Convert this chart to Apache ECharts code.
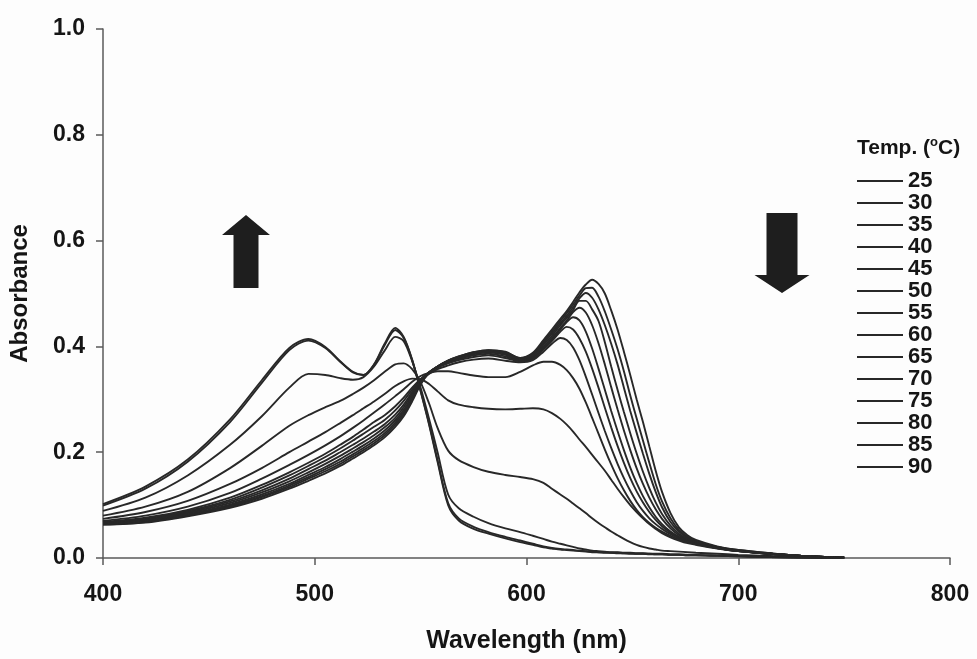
<!DOCTYPE html>
<html>
<head>
<meta charset="utf-8">
<script src="https://cdn.jsdelivr.net/npm/echarts@6/dist/echarts.min.js"></script>
<style>
  html, body { margin: 0; padding: 0; background: #fdfdfd; }
  #chart { width: 977px; height: 659px; }
</style>
</head>
<body>
<div id="chart"></div>
<script>
// Wavelength grid (nm) shared by every spectrum
const wavelengths = [400, 420, 440, 460, 475, 488, 497, 505, 512, 518, 523, 528, 533, 538,
  542, 546, 550, 554, 558, 563, 568, 575, 582, 590, 597, 603, 608, 612, 616,
  619, 622, 625, 628, 631, 634, 637, 640, 643, 646, 649, 652, 655, 658, 661,
  664, 668, 672, 676, 680, 690, 700, 715, 730, 750];

// Temperatures (°C), one spectrum each
const temperatures = ['25', '30', '35', '40', '45', '50', '55', '60', '65', '70', '75', '80', '85', '90'];

// Absorbance spectra
const abs25 = [0.063, 0.067, 0.079, 0.095, 0.112, 0.131, 0.146, 0.160, 0.174, 0.188, 0.200, 0.213, 0.228, 0.248,
  0.268, 0.296, 0.328, 0.350, 0.362, 0.373, 0.381, 0.389, 0.393, 0.390, 0.378, 0.388, 0.412, 0.432, 0.452,
  0.467, 0.484, 0.502, 0.517, 0.526, 0.518, 0.500, 0.468, 0.432, 0.390, 0.346, 0.300, 0.257, 0.211, 0.165,
  0.125, 0.085, 0.058, 0.043, 0.034, 0.022, 0.015, 0.009, 0.004, 0.001];
const abs30 = [0.063, 0.068, 0.080, 0.097, 0.115, 0.134, 0.150, 0.164, 0.178, 0.192, 0.204, 0.217, 0.232, 0.252,
  0.272, 0.299, 0.330, 0.350, 0.362, 0.373, 0.381, 0.389, 0.393, 0.389, 0.378, 0.386, 0.409, 0.428, 0.448,
  0.463, 0.479, 0.496, 0.510, 0.511, 0.494, 0.466, 0.432, 0.395, 0.353, 0.307, 0.264, 0.222, 0.180, 0.140,
  0.107, 0.075, 0.053, 0.040, 0.032, 0.021, 0.015, 0.009, 0.004, 0.001];
const abs35 = [0.064, 0.069, 0.081, 0.099, 0.117, 0.137, 0.153, 0.168, 0.182, 0.196, 0.208, 0.221, 0.236, 0.256,
  0.276, 0.302, 0.332, 0.351, 0.362, 0.373, 0.380, 0.388, 0.392, 0.388, 0.377, 0.384, 0.406, 0.424, 0.444,
  0.458, 0.474, 0.491, 0.501, 0.492, 0.470, 0.440, 0.405, 0.366, 0.322, 0.278, 0.237, 0.197, 0.159, 0.125,
  0.096, 0.068, 0.050, 0.038, 0.031, 0.021, 0.014, 0.008, 0.004, 0.001];
const abs40 = [0.064, 0.070, 0.083, 0.101, 0.120, 0.140, 0.157, 0.172, 0.187, 0.201, 0.213, 0.226, 0.241, 0.260,
  0.280, 0.306, 0.334, 0.351, 0.362, 0.372, 0.379, 0.387, 0.391, 0.386, 0.376, 0.382, 0.403, 0.420, 0.440,
  0.454, 0.469, 0.486, 0.486, 0.470, 0.448, 0.408, 0.362, 0.318, 0.276, 0.236, 0.198, 0.163, 0.132, 0.105,
  0.083, 0.061, 0.046, 0.036, 0.030, 0.020, 0.014, 0.008, 0.004, 0.001];
const abs45 = [0.065, 0.071, 0.085, 0.104, 0.124, 0.145, 0.162, 0.178, 0.193, 0.207, 0.219, 0.232, 0.247, 0.265,
  0.285, 0.310, 0.336, 0.351, 0.362, 0.371, 0.378, 0.385, 0.389, 0.384, 0.375, 0.380, 0.399, 0.416, 0.435,
  0.449, 0.465, 0.473, 0.464, 0.440, 0.406, 0.366, 0.323, 0.281, 0.241, 0.204, 0.170, 0.140, 0.114, 0.092,
  0.074, 0.056, 0.043, 0.035, 0.029, 0.020, 0.014, 0.008, 0.004, 0.001];
const abs50 = [0.066, 0.072, 0.087, 0.107, 0.128, 0.150, 0.168, 0.184, 0.200, 0.214, 0.226, 0.239, 0.253, 0.271,
  0.290, 0.314, 0.337, 0.351, 0.361, 0.370, 0.376, 0.383, 0.386, 0.381, 0.374, 0.378, 0.396, 0.413, 0.432,
  0.446, 0.455, 0.449, 0.428, 0.396, 0.358, 0.318, 0.278, 0.240, 0.204, 0.171, 0.142, 0.117, 0.096, 0.078,
  0.064, 0.050, 0.040, 0.033, 0.028, 0.019, 0.013, 0.008, 0.004, 0.001];
const abs55 = [0.067, 0.074, 0.089, 0.110, 0.133, 0.156, 0.174, 0.191, 0.207, 0.222, 0.235, 0.248, 0.261, 0.279,
  0.297, 0.318, 0.338, 0.350, 0.360, 0.368, 0.374, 0.380, 0.383, 0.378, 0.372, 0.376, 0.394, 0.410, 0.428,
  0.437, 0.432, 0.415, 0.390, 0.358, 0.322, 0.284, 0.247, 0.212, 0.180, 0.151, 0.126, 0.105, 0.087, 0.072,
  0.060, 0.048, 0.039, 0.032, 0.027, 0.019, 0.013, 0.008, 0.004, 0.001];
const abs60 = [0.068, 0.076, 0.091, 0.114, 0.138, 0.162, 0.180, 0.197, 0.214, 0.229, 0.243, 0.257, 0.270, 0.287,
  0.303, 0.322, 0.338, 0.348, 0.357, 0.364, 0.370, 0.375, 0.377, 0.373, 0.370, 0.374, 0.390, 0.405, 0.416,
  0.412, 0.398, 0.374, 0.343, 0.309, 0.274, 0.240, 0.208, 0.178, 0.151, 0.127, 0.106, 0.089, 0.075, 0.064,
  0.055, 0.045, 0.037, 0.031, 0.027, 0.019, 0.013, 0.008, 0.004, 0.001];
const abs65 = [0.070, 0.080, 0.097, 0.123, 0.150, 0.176, 0.195, 0.213, 0.230, 0.246, 0.260, 0.275, 0.290, 0.306,
  0.319, 0.333, 0.344, 0.350, 0.353, 0.353, 0.350, 0.345, 0.342, 0.342, 0.352, 0.364, 0.371, 0.371, 0.365,
  0.355, 0.340, 0.320, 0.294, 0.265, 0.235, 0.205, 0.177, 0.151, 0.128, 0.108, 0.091, 0.077, 0.066, 0.057,
  0.050, 0.042, 0.035, 0.030, 0.026, 0.019, 0.013, 0.008, 0.004, 0.001];
const abs70 = [0.074, 0.087, 0.108, 0.140, 0.170, 0.200, 0.220, 0.238, 0.255, 0.270, 0.283, 0.296, 0.310, 0.325,
  0.334, 0.339, 0.338, 0.329, 0.315, 0.298, 0.290, 0.285, 0.282, 0.281, 0.282, 0.283, 0.281, 0.274, 0.263,
  0.252, 0.239, 0.224, 0.210, 0.195, 0.180, 0.165, 0.148, 0.131, 0.115, 0.100, 0.087, 0.075, 0.064, 0.055,
  0.047, 0.039, 0.033, 0.028, 0.025, 0.018, 0.013, 0.008, 0.004, 0.001];
const abs75 = [0.080, 0.097, 0.125, 0.170, 0.212, 0.250, 0.270, 0.285, 0.297, 0.310, 0.322, 0.336, 0.352, 0.366,
  0.368, 0.357, 0.332, 0.292, 0.246, 0.203, 0.185, 0.172, 0.163, 0.157, 0.153, 0.149, 0.142, 0.131, 0.120,
  0.112, 0.103, 0.094, 0.085, 0.075, 0.066, 0.058, 0.050, 0.043, 0.036, 0.030, 0.025, 0.021, 0.018, 0.016,
  0.014, 0.013, 0.012, 0.011, 0.010, 0.008, 0.006, 0.004, 0.002, 0.000];
const abs80 = [0.089, 0.114, 0.156, 0.214, 0.268, 0.322, 0.348, 0.346, 0.340, 0.337, 0.342, 0.362, 0.392, 0.418,
  0.410, 0.372, 0.322, 0.263, 0.200, 0.120, 0.094, 0.078, 0.066, 0.056, 0.049, 0.042, 0.036, 0.031, 0.027,
  0.024, 0.021, 0.018, 0.016, 0.014, 0.013, 0.012, 0.011, 0.011, 0.010, 0.010, 0.009, 0.009, 0.008, 0.008,
  0.008, 0.007, 0.007, 0.006, 0.006, 0.005, 0.004, 0.002, 0.001, 0.000];
const abs85 = [0.099, 0.131, 0.182, 0.257, 0.331, 0.393, 0.411, 0.397, 0.371, 0.351, 0.346, 0.365, 0.402, 0.431,
  0.416, 0.374, 0.316, 0.254, 0.185, 0.104, 0.075, 0.059, 0.049, 0.040, 0.033, 0.027, 0.022, 0.019, 0.017,
  0.016, 0.015, 0.014, 0.013, 0.012, 0.011, 0.011, 0.010, 0.010, 0.009, 0.009, 0.008, 0.008, 0.008, 0.007,
  0.007, 0.006, 0.006, 0.005, 0.005, 0.004, 0.003, 0.002, 0.001, 0.000];
const abs90 = [0.102, 0.135, 0.186, 0.262, 0.336, 0.397, 0.414, 0.399, 0.372, 0.352, 0.346, 0.366, 0.405, 0.435,
  0.418, 0.375, 0.315, 0.252, 0.182, 0.100, 0.071, 0.055, 0.046, 0.037, 0.030, 0.025, 0.020, 0.018, 0.016,
  0.015, 0.014, 0.013, 0.012, 0.011, 0.011, 0.010, 0.010, 0.009, 0.009, 0.008, 0.008, 0.008, 0.007, 0.007,
  0.007, 0.006, 0.006, 0.005, 0.005, 0.004, 0.003, 0.002, 0.001, 0.000];

const spectra = [abs25, abs30, abs35, abs40, abs45, abs50, abs55, abs60, abs65, abs70, abs75, abs80, abs85, abs90];

const FONT = '"Liberation Sans", Arial, Helvetica, sans-serif';
const INK = '#151515';
const LINE = '#282828';
const AXIS = '#5a5a5a';

const chart = echarts.init(document.getElementById('chart'), null, { renderer: 'canvas' });

const series = temperatures.map((t, k) => ({
  name: t,
  type: 'line',
  data: wavelengths.map((w, i) => [w, spectra[k][i]]),
  showSymbol: false,
  smooth: 0.3,
  color: LINE,
  lineStyle: { color: LINE, width: 1.9 },
  emphasis: { disabled: true },
  animation: false,
  z: 2
}));

// Block arrows showing the direction of change with rising temperature
function arrowUp(cx, tipY, baseY, headY, shaftW, headW) {
  return [[cx, tipY], [cx + headW / 2, headY], [cx + shaftW / 2, headY], [cx + shaftW / 2, baseY],
    [cx - shaftW / 2, baseY], [cx - shaftW / 2, headY], [cx - headW / 2, headY]];
}
function arrowDown(cx, topY, tipY, headY, shaftW, headW) {
  return [[cx - shaftW / 2, topY], [cx + shaftW / 2, topY], [cx + shaftW / 2, headY], [cx + headW / 2, headY],
    [cx, tipY], [cx - headW / 2, headY], [cx - shaftW / 2, headY]];
}

chart.setOption({
  backgroundColor: '#fdfdfd',
  animation: false,
  grid: { left: 103, right: 27, top: 29, bottom: 100, containLabel: false },
  xAxis: {
    type: 'value',
    min: 400, max: 800, interval: 100,
    name: 'Wavelength (nm)',
    nameLocation: 'middle',
    nameGap: 71,
    nameTextStyle: { fontFamily: FONT, fontWeight: 'bold', fontSize: 25, color: INK },
    axisLine: { show: true, onZero: false, lineStyle: { color: AXIS, width: 1.5 } },
    axisTick: { show: true, length: 7, lineStyle: { color: AXIS, width: 1.5 } },
    axisLabel: { margin: 25, fontFamily: FONT, fontWeight: 'bold', fontSize: 23, color: INK },
    splitLine: { show: false }
  },
  yAxis: {
    type: 'value',
    min: 0, max: 1, interval: 0.2,
    name: 'Absorbance',
    nameLocation: 'middle',
    nameRotate: 90,
    nameGap: 71,
    nameTextStyle: { fontFamily: FONT, fontWeight: 'bold', fontSize: 24, color: INK },
    axisLine: { show: true, onZero: false, lineStyle: { color: AXIS, width: 1.5 } },
    axisTick: { show: true, length: 7, lineStyle: { color: AXIS, width: 1.5 } },
    axisLabel: {
      margin: 18, fontFamily: FONT, fontWeight: 'bold', fontSize: 23, color: INK,
      formatter: v => v.toFixed(1)
    },
    splitLine: { show: false }
  },
  legend: {
    orient: 'vertical',
    left: 857,
    top: 170,
    padding: 0,
    itemGap: 0,
    itemWidth: 46,
    itemHeight: 2,
    icon: 'rect',
    selectedMode: false,
    data: temperatures,
    textStyle: { fontFamily: FONT, fontWeight: 'bold', fontSize: 22, color: INK, lineHeight: 22 }
  },
  graphic: [
    {
      type: 'text', left: 857, top: 136, z: 10,
      style: {
        text: 'Temp. ({s|o}C)',
        fontFamily: FONT, fontWeight: 'bold', fontSize: 21, fill: INK, lineHeight: 24,
        rich: { s: { fontFamily: FONT, fontWeight: 'bold', fontSize: 13, lineHeight: 13, verticalAlign: 'top', fill: INK } }
      }
    },
    {
      type: 'polygon', z: 10,
      shape: { points: arrowUp(246, 215, 288, 235, 25, 48) },
      style: { fill: '#1e1e1e' }
    },
    {
      type: 'polygon', z: 10,
      shape: { points: arrowDown(782, 213, 293, 275, 31, 55) },
      style: { fill: '#1e1e1e' }
    }
  ],
  series: series
});
</script>
</body>
</html>
